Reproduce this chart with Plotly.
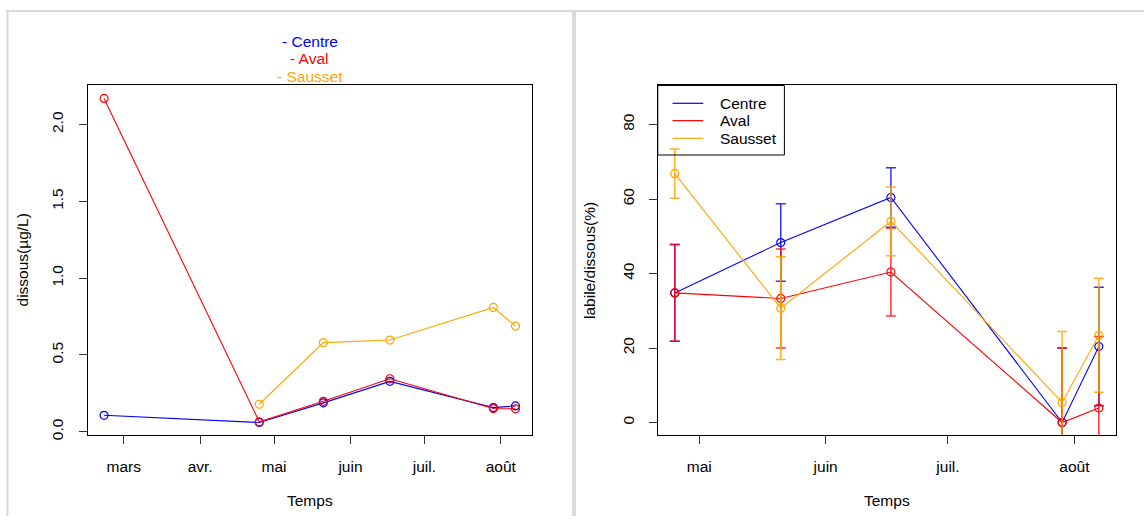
import pandas as pd
import plotly.graph_objects as go

# ---- data -------------------------------------------------------------
# dissolved concentration (µg/L) per sampling date
dates_dissous = ["2021-02-21", "2021-04-25", "2021-05-21", "2021-06-17", "2021-07-29", "2021-08-07"]
centre_dissous = [0.107, 0.060, 0.188, 0.328, 0.157, 0.168]
aval_dissous = [2.17, 0.065, 0.198, 0.345, 0.151, 0.149]
sausset_dissous = [None, 0.179, 0.580, 0.597, 0.809, 0.688]

# labile / dissolved fraction (%) with standard deviations
dates_labile = ["2021-04-25", "2021-05-21", "2021-06-17", "2021-07-29", "2021-08-07"]
centre_labile = [34.8, 48.3, 60.4, 0.0, 20.4]
centre_sd = [13.0, 10.4, 8.0, 20.0, 15.9]
aval_labile = [34.8, 33.3, 40.4, 0.0, 3.9]
aval_sd = [13.0, 13.3, 11.8, 20.0, 19.2]
sausset_labile = [66.8, 30.7, 54.0, 5.4, 23.4]
sausset_sd = [6.6, 13.8, 9.2, 19.0, 15.3]

site_names = ["Centre", "Aval", "Sausset"]
site_colors = ["#0000FF", "#FF0000", "#FFA500"]
errbar_colors = ["rgba(0,0,255,0.8)", "rgba(255,0,0,0.8)", "rgba(255,165,0,0.85)"]

month_ticks_left = ["2021-03-01", "2021-04-01", "2021-05-01", "2021-06-01", "2021-07-01", "2021-08-01"]
month_labels_left = ["mars", "avr.", "mai", "juin", "juil.", "août"]
month_ticks_right = ["2021-05-01", "2021-06-01", "2021-07-01", "2021-08-01"]
month_labels_right = ["mai", "juin", "juil.", "août"]

ylim_labile = [0, 87]

# ---- helpers ----------------------------------------------------------
W, H = 1144, 521
FONT = "Liberation Sans, Arial, sans-serif"
FS = 15.5


def px(x):
    return x / W


def py(y):
    return 1 - y / H


def padded_dates(values, frac=0.04):
    d = pd.to_datetime(pd.Series(values))
    span = d.max() - d.min()
    return [(d.min() - span * frac).isoformat(), (d.max() + span * frac).isoformat()]


def padded(lo, hi, frac=0.04):
    span = hi - lo
    return [lo - span * frac, hi + span * frac]


fig = go.Figure()

# ---- left panel: dissolved concentration -------------------------------
for name, color, vals in zip(site_names, site_colors,
                             [centre_dissous, aval_dissous, sausset_dissous]):
    fig.add_trace(go.Scatter(
        x=dates_dissous, y=vals, name=name, mode="lines+markers",
        line=dict(color=color, width=1.1),
        marker=dict(symbol="circle-open", size=8, color=color, line=dict(width=1.2)),
        connectgaps=False, showlegend=False, xaxis="x", yaxis="y",
    ))

# ---- right panel: labile fraction with error bars -----------------------
for name, color, ecolor, vals, sd in zip(site_names, site_colors, errbar_colors,
                                         [centre_labile, aval_labile, sausset_labile],
                                         [centre_sd, aval_sd, sausset_sd]):
    fig.add_trace(go.Scatter(
        x=dates_labile, y=vals, name=name, mode="lines+markers",
        line=dict(color=color, width=1.1),
        marker=dict(symbol="circle-open", size=8, color=color, line=dict(width=1.2)),
        error_y=dict(type="data", array=sd, visible=True, color=ecolor,
                     thickness=1.5, width=5),
        showlegend=False, xaxis="x2", yaxis="y2",
    ))

all_dissous = [v for s in (centre_dissous, aval_dissous, sausset_dissous) for v in s if v is not None]

axis_style = dict(
    showline=True, linecolor="black", linewidth=1, mirror=True,
    ticks="outside", ticklen=8, tickcolor="#333333", tickwidth=1,
    showgrid=False, zeroline=False,
    tickfont=dict(family=FONT, size=FS, color="black"),
    ticklabelstandoff=9,
)

y_top, y_bot = 86.3, 439.7
x1_left, x1_right = 87.6, 532
x2_left, x2_right = 657.8, 1115.8
fig.update_layout(
    width=W, height=H, autosize=False,
    margin=dict(l=0, r=0, t=0, b=0),
    paper_bgcolor="white", plot_bgcolor="white",
    font=dict(family=FONT, size=FS, color="black"),
    xaxis=dict(domain=[px(x1_left), px(x1_right)], type="date",
               range=padded_dates(dates_dissous),
               tickvals=month_ticks_left, ticktext=month_labels_left,
               anchor="y", **axis_style),
    yaxis=dict(domain=[py(y_bot), py(y_top)],
               range=padded(min(all_dissous), max(all_dissous)),
               tickvals=[0, 0.5, 1.0, 1.5, 2.0],
               ticktext=["0.0", "0.5", "1.0", "1.5", "2.0"],
               tickangle=-90, anchor="x", **axis_style),
    xaxis2=dict(domain=[px(x2_left), px(x2_right)], type="date",
                range=padded_dates(dates_labile),
                tickvals=month_ticks_right, ticktext=month_labels_right,
                anchor="y2", **axis_style),
    yaxis2=dict(domain=[py(y_bot), py(y_top)],
                range=padded(*ylim_labile),
                tickvals=[0, 20, 40, 60, 80],
                tickangle=-90, anchor="x2", **axis_style),
)

annotations = []
# stacked site labels above the left panel
left_center = (x1_left + x1_right) / 2
for name, color, y in zip(site_names, site_colors, [41.7, 59.3, 77.0]):
    annotations.append(dict(text="- " + name, x=px(left_center), y=py(y),
                            xref="paper", yref="paper", showarrow=False,
                            xanchor="center", yanchor="middle",
                            font=dict(family=FONT, size=FS, color=color)))

# axis titles
for xc in [left_center, (x2_left + x2_right) / 2]:
    annotations.append(dict(text="Temps", x=px(xc), y=py(505.5), xref="paper", yref="paper",
                            showarrow=False, xanchor="center", yanchor="middle",
                            font=dict(family=FONT, size=FS, color="black")))
for text, xc in [("dissous(µg/L)", 22), ("labile/dissous(%)", 589.5)]:
    annotations.append(dict(text=text, x=px(xc), y=py((y_top + y_bot) / 2),
                            xref="paper", yref="paper", textangle=-90,
                            showarrow=False, xanchor="center", yanchor="middle",
                            font=dict(family=FONT, size=FS, color="black")))

# legend box of the right panel (no fill, marks stay visible through it)
shapes = [dict(type="rect", xref="paper", yref="paper",
               x0=px(x2_left), x1=px(784.4), y0=py(156.5), y1=py(y_top),
               line=dict(color="black", width=1), fillcolor="rgba(0,0,0,0)", layer="above")]
for name, color, y in zip(site_names, site_colors, [104.3, 121.8, 139.6]):
    shapes.append(dict(type="line", xref="paper", yref="paper",
                       x0=px(672.5), x1=px(703.3), y0=py(y), y1=py(y),
                       line=dict(color=color, width=1.2), layer="above"))
    annotations.append(dict(text=name, x=px(717.8), y=py(y), xref="paper", yref="paper",
                            showarrow=False, xanchor="left", yanchor="middle",
                            font=dict(family=FONT, size=FS, color="black")))

# light grey panel frames
frame = "#d9d9d9"
shapes += [
    dict(type="line", xref="paper", yref="paper", x0=px(6), x1=1, y0=py(11), y1=py(11),
         line=dict(color=frame, width=2)),
    dict(type="line", xref="paper", yref="paper", x0=px(7.5), x1=px(7.5), y0=py(11), y1=0,
         line=dict(color=frame, width=2)),
    dict(type="line", xref="paper", yref="paper", x0=px(574), x1=px(574), y0=py(11), y1=0,
         line=dict(color=frame, width=4)),
]

fig.update_layout(annotations=annotations, shapes=shapes)
fig.write_html("out.html")
